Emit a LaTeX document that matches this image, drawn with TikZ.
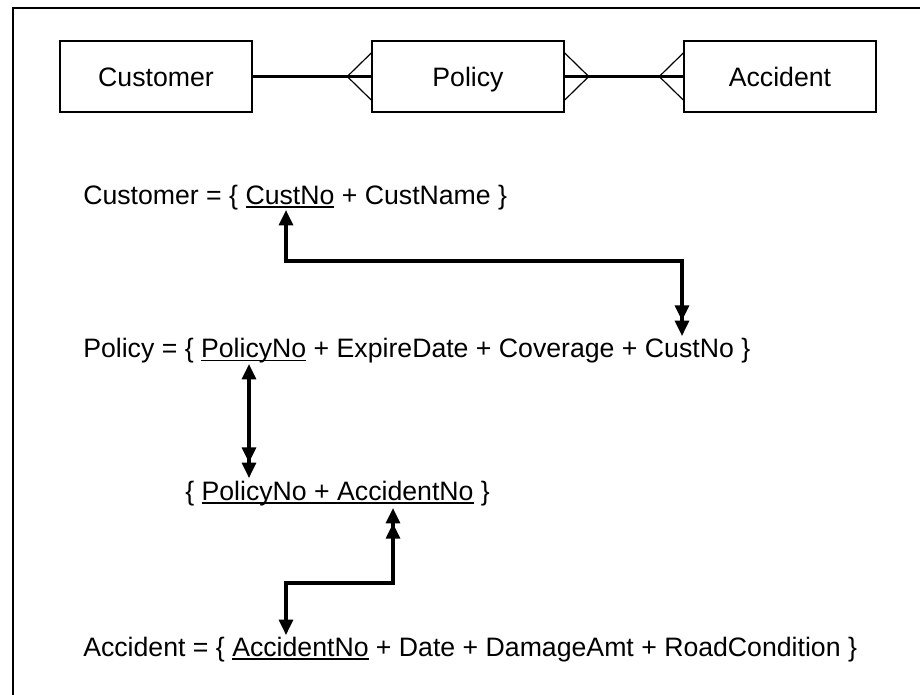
\documentclass[tikz,border=0pt]{standalone}
\usepackage{fontspec}
\setmainfont{Liberation Sans}
\usetikzlibrary{arrows.meta,calc}
\newcommand\ulw[1]{\setbox0\hbox{#1}\rlap{\vrule height -1.7pt depth 2.8pt width \wd0}\box0\relax}
\begin{document}
\begin{tikzpicture}[x=0.75pt,y=-0.75pt,
  >={Triangle[length=11.5pt,width=10.5pt]},
  frame/.style={line width=1.7pt},
  entity/.style={draw,line width=1.1pt,minimum width=144pt,minimum height=53.25pt,
    inner sep=0pt,text height=14.3pt,text depth=0pt,font=\fontsize{20}{24}\selectfont},
  rel/.style={line width=2.4pt},
  crow/.style={line width=0.9pt},
  txt/.style={anchor=base west,inner sep=0pt,font=\fontsize{20}{24}\selectfont},
  link/.style={line width=2.3pt}]
\useasboundingbox (0,0) rectangle (920,694);
% frame
\draw[frame] (13,720) -- (13,8) -- (940,8);
% entities
\node[entity] (cust) at (156,76.5) {Customer};
\node[entity] (pol)  at (468,76.5) {Policy};
\node[entity] (acc)  at (780,76.5) {Accident};
% relationships
\draw[rel] (cust.east) -- (pol.west);
\draw[rel] (pol.east) -- (acc.west);
\draw[crow] ($(pol.west)+(0,-23.5)$) -- ($(pol.west)+(-24,0)$) -- ($(pol.west)+(0,23.5)$);
\draw[crow] ($(pol.east)+(0,-23.5)$) -- ($(pol.east)+(24,0)$) -- ($(pol.east)+(0,23.5)$);
\draw[crow] ($(acc.west)+(0,-23.5)$) -- ($(acc.west)+(-24,0)$) -- ($(acc.west)+(0,23.5)$);
% relations
\node[txt] (tcust) at (83,204) {Customer = \{ \ulw{CustNo} + CustName \}};
\node[txt] (tpol) at (83,357.5) {Policy = \{ \ulw{PolicyNo} + ExpireDate + Coverage + CustNo \}};
\node[txt] (tlink) at (185,500) {\{ \ulw{PolicyNo + AccidentNo} \}};
\node[txt] (tacc) at (83,656) {Accident = \{ \ulw{AccidentNo} + Date + DamageAmt + RoadCondition \}};
% connector end points
\coordinate (k1a) at (286,210);
\coordinate (k1b) at (682,336);
\coordinate (k2a) at (249,364);
\coordinate (k2b) at (249,478);
\coordinate (k3a) at (393,508);
\coordinate (k3b) at (286,635);
\draw[link,<->>] (k1a) -- ++(0,51) -| (k1b);
\draw[link,<->>] (k2a) -- (k2b);
\draw[link,<<->] (k3a) -- ++(0,75) -| (k3b);
\end{tikzpicture}
\end{document}
